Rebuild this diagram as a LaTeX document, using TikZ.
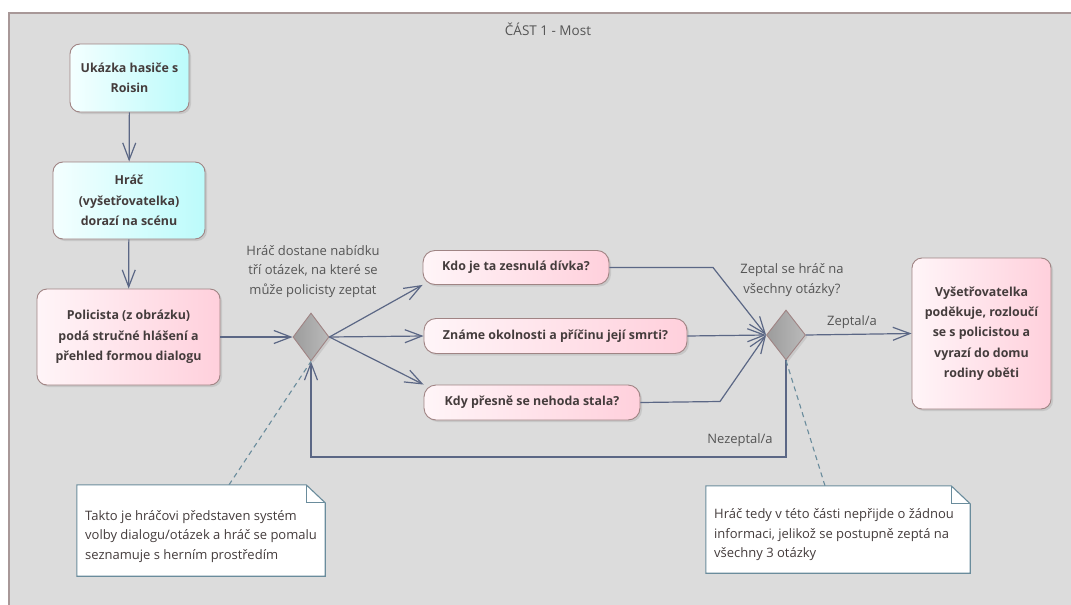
\documentclass[tikz,border=0pt]{standalone}
\usepackage{fontspec}
\setmainfont{Open Sans}
\usetikzlibrary{arrows.meta,shapes.geometric,shadows,calc}

\definecolor{framebg}{HTML}{DCDCDC}
\definecolor{frameline}{HTML}{A89898}
\definecolor{flow}{HTML}{5B6785}
\definecolor{nodeline}{HTML}{A08484}
\definecolor{txt}{HTML}{443C3C}
\definecolor{lbl}{HTML}{555555}
\definecolor{cyanA}{HTML}{F4FFFF}
\definecolor{cyanB}{HTML}{BCFBFB}
\definecolor{pinkA}{HTML}{FFF5F8}
\definecolor{pinkB}{HTML}{FFD0DC}
\definecolor{grayA}{HTML}{9C9C9C}
\definecolor{grayB}{HTML}{BABABA}
\definecolor{noteline}{HTML}{6A8C9C}

\begin{document}
\begin{tikzpicture}[x=1pt,y=-1pt,
  box/.style={draw=nodeline, line width=0.9pt, rounded corners=10pt,
    align=center, font=\bfseries\fontsize{12.4}{20.3}\selectfont, text=txt,
    inner sep=2pt,
    drop shadow={shadow xshift=2pt,shadow yshift=-2pt,opacity=0.22,fill=gray}},
  cyanbox/.style={box, left color=cyanA, right color=cyanB},
  pinkbox/.style={box, left color=pinkA, right color=pinkB},
  qbox/.style={pinkbox, rounded corners=12pt},
  decision/.style={shape=diamond, draw=nodeline, line width=0.9pt,
    left color=grayA, right color=grayB, inner sep=0pt,
    drop shadow={shadow xshift=2pt,shadow yshift=-2pt,opacity=0.2,fill=gray}},
  notebody/.style={rectangle, inner sep=0pt},
  notetext/.style={align=left, anchor=west, text=txt, inner sep=0pt,
    font=\fontsize{13}{19.5}\selectfont},
  lbl/.style={align=center, text=lbl, inner sep=0pt,
    font=\fontsize{13}{19.5}\selectfont},
  flowline/.style={draw=flow, line width=1.2pt,
    -{Straight Barb[length=17pt,width=13pt,line width=1.2pt]}},
  anchorline/.style={draw=noteline, line width=1.1pt, dash pattern=on 5pt off 4pt},
  noteshape/.style={draw=noteline, line width=1.1pt, fill=white}
]
\useasboundingbox (0,0) rectangle (1071,605);
\clip (0,0) rectangle (1071,605);
\fill[white] (0,0) rectangle (1071,605);

% frame of the part
\draw[frameline, line width=1.5pt, fill=framebg] (9,13) rectangle (1090,630);
\node[lbl, font=\fontsize{13.5}{15}\selectfont] (title) at (548,29) {ČÁST 1 - Most};

% main flow
\node[cyanbox, minimum width=119pt, minimum height=68pt] (A) at (129.5,78)
  {Ukázka hasiče s\\Roisin};
\node[cyanbox, minimum width=152pt, minimum height=77pt] (B) at (129,200.5)
  {Hráč\\(vyšetřovatelka)\\dorazí na scénu};
\node[pinkbox, minimum width=183pt, minimum height=96pt] (C) at (128.5,337)
  {Policista (z obrázku)\\podá stručné hlášení a\\přehled formou dialogu};

\node[decision, minimum width=36pt, minimum height=48pt] (D1) at (311,337) {};

\node[qbox, minimum width=186pt, minimum height=34pt] (Q1) at (516,267.5)
  {Kdo je ta zesnulá dívka?};
\node[qbox, minimum width=263pt, minimum height=35pt] (Q2) at (555.5,336)
  {Známe okolnosti a příčinu její smrti?};
\node[qbox, minimum width=216pt, minimum height=35pt] (Q3) at (532,402.5)
  {Kdy přesně se nehoda stala?};

\node[decision, minimum width=39pt, minimum height=50pt] (D2) at (786,335) {};

\node[pinkbox, minimum width=139pt, minimum height=151pt] (E) at (981.5,333.5)
  {Vyšetřovatelka\\poděkuje, rozloučí\\se s policistou a\\vyrazí do domu\\rodiny oběti};

% labels
\node[lbl] (L1) at (313,271.5)
  {Hráč dostane nabídku\\tří otázek, na které se\\může policisty zeptat};
\node[lbl] (L2) at (792,280) {Zeptal se hráč na\\všechny otázky?};
\node[lbl] (L3) at (852,322) {Zeptal/a};
\node[lbl] (L4) at (740,440) {Nezeptal/a};

% connectors
\draw[flowline] (A) -- (B);
\draw[flowline] (B) -- (C);
\draw[flowline] (C) -- (D1);
\draw[flowline] (D1.east) -- (Q1.south west);
\draw[flowline] (D1.east) -- (Q2.west);
\draw[flowline] (D1.east) -- (Q3.north west);
\coordinate (k1) at (713,267.5);
\coordinate (k3) at (720,401.5);
\draw[flowline] (Q1.east) -- (k1) -- (D2.west);
\draw[flowline] (Q2.east) -- (D2.west);
\draw[flowline] (Q3.east) -- (k3) -- (D2.west);
\draw[flowline] (D2.east) -- (E.west);
\coordinate (loop) at (786,457);
\draw[flowline] (D2.south) -- (loop) -| (D1.south);

% notes
\node[notebody, minimum width=248pt, minimum height=91pt] (N1) at (201,530.5) {};
\node[notebody, minimum width=264pt, minimum height=87pt] (N2) at (838,529.5) {};
\draw[anchorline] ($(N1.north)+(28,0)$) -- (D1.south);
\draw[anchorline] ($(N2.north)+(-13,0)$) -- (D2.south);
\foreach \n in {N1,N2}{
  \draw[noteshape] (\n.south west) -- (\n.north west) -- ($(\n.north east)+(-19,0)$)
    -- ($(\n.north east)+(0,18)$) -- (\n.south east) -- cycle;
  \draw[noteshape, fill=none] ($(\n.north east)+(-19,0)$) -- ($(\n.north east)+(-19,18)$)
    -- ($(\n.north east)+(0,18)$);
}
\node[notetext] (N1t) at (85,536.5)
  {Takto je hráčovi představen systém\\volby dialogu/otázek a hráč se pomalu\\seznamuje s herním prostředím};
\node[notetext] (N2t) at (714,535)
  {Hráč tedy v této části nepřijde o žádnou\\informaci, jelikož se postupně zeptá na\\všechny 3 otázky};
\end{tikzpicture}
\end{document}
